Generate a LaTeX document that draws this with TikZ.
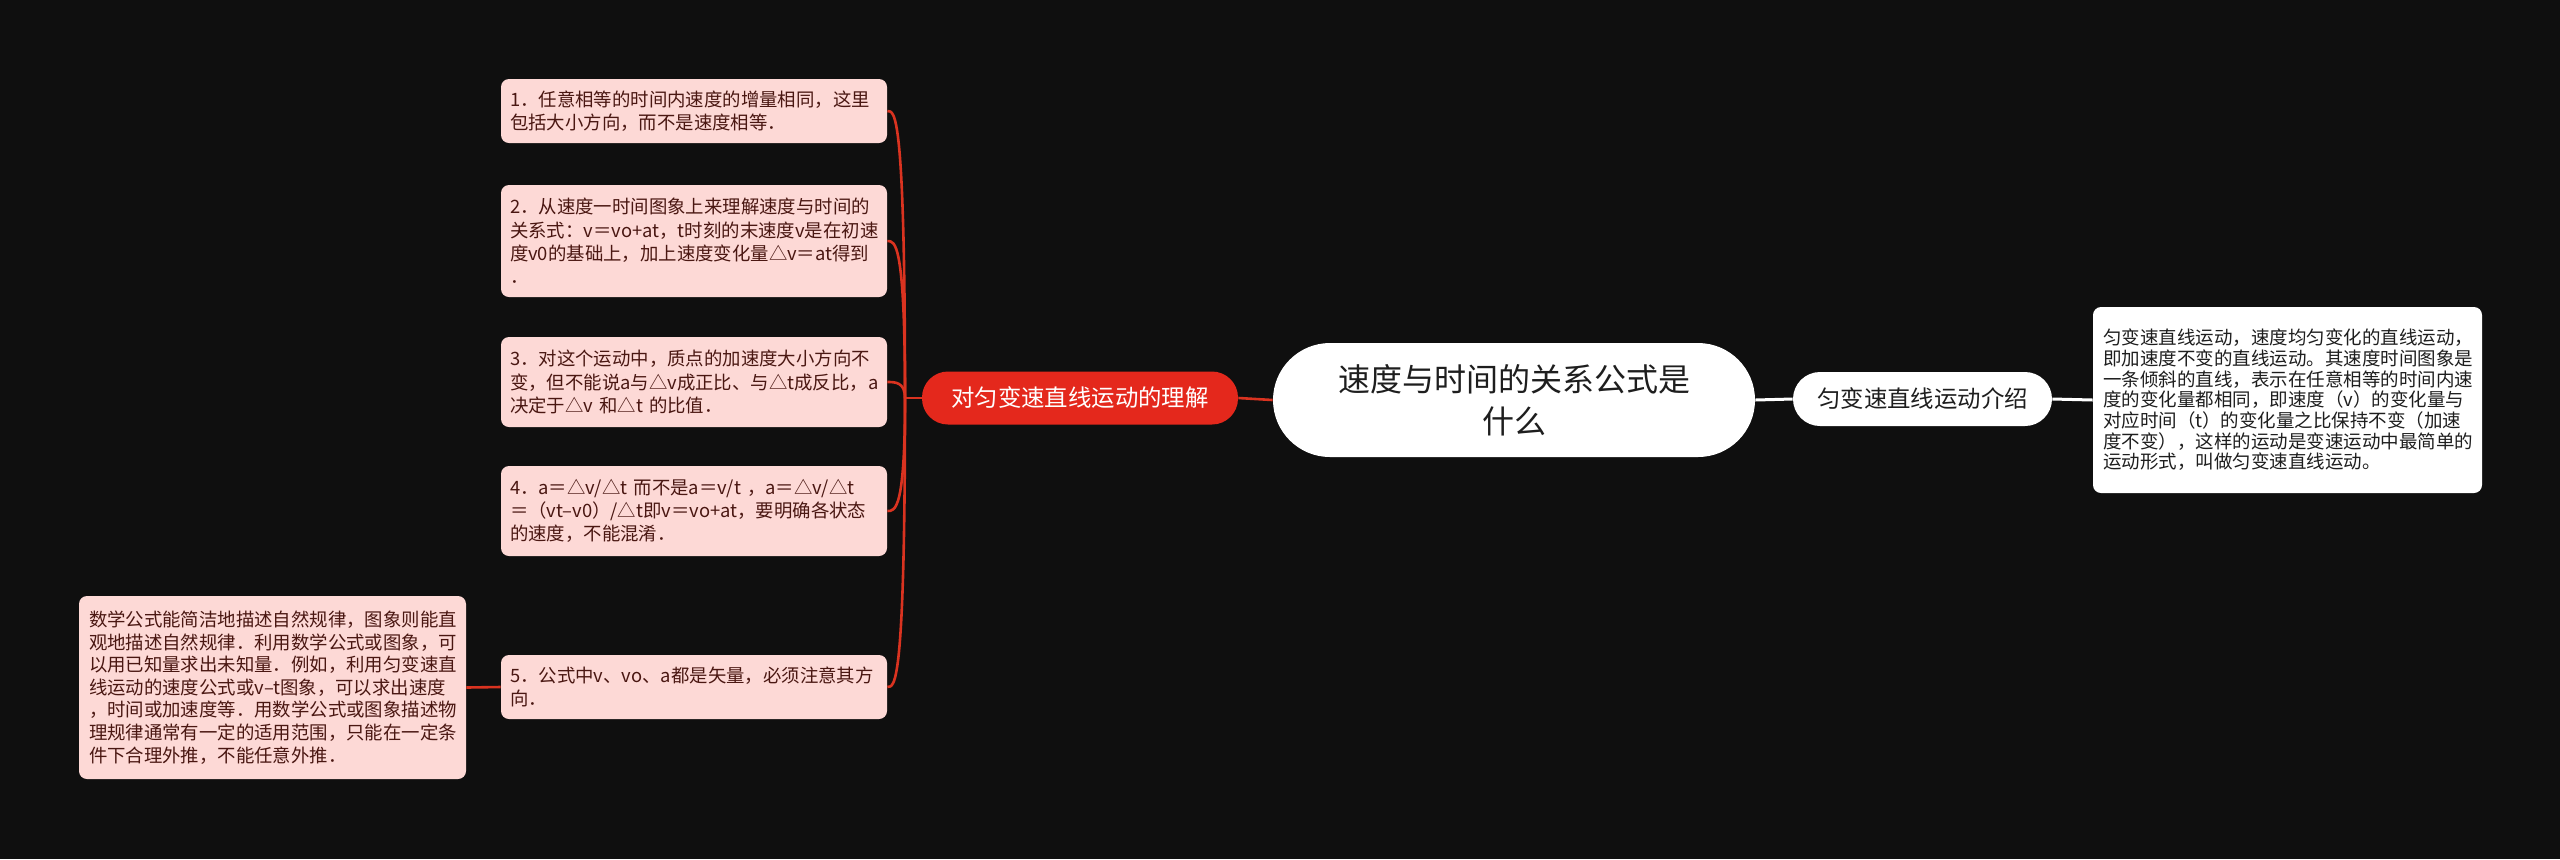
\documentclass[tikz,border=0pt]{standalone}
\usepackage{fontspec}
\setmainfont{Noto Sans CJK SC}
\definecolor{bgc}{HTML}{0F0F0F}
\definecolor{pinkfill}{HTML}{FDD9D6}
\definecolor{maroon}{HTML}{4A1712}
\definecolor{redn}{HTML}{E4281C}
\definecolor{redl}{HTML}{DA3320}
\definecolor{darktext}{HTML}{1E1E1E}
\begin{document}
\begin{tikzpicture}[x=0.5pt,y=-0.5pt,
  leaf/.style={fill=pinkfill, rounded corners=4pt, text=maroon,
    font=\fontsize{9.2pt}{11.65pt}\selectfont, align=left,
    text width=184pt, inner xsep=4.5pt, inner ysep=0pt, minimum width=193pt},
  farleaf/.style={fill=pinkfill, rounded corners=4pt, text=maroon,
    font=\fontsize{9.2pt}{11.3pt}\selectfont, align=left,
    text width=183.5pt, inner xsep=5pt, inner ysep=0pt, minimum width=193.5pt},
  rleaf/.style={fill=white, rounded corners=4pt, text=darktext,
    font=\fontsize{9.25pt}{10.35pt}\selectfont, align=left,
    text width=184.5pt, inner xsep=5pt, inner ysep=0pt, minimum width=194.5pt},
  rootnode/.style={fill=white, rounded corners=28.5pt, text=darktext,
    font=\fontsize{16pt}{21pt}\selectfont, align=center,
    minimum width=241pt, minimum height=57pt, inner sep=0pt},
  rednode/.style={fill=redn, rounded corners=13pt, text=white,
    font=\fontsize{11.7pt}{14pt}\selectfont,
    minimum width=158pt, minimum height=26.5pt, inner sep=0pt},
  whitenode/.style={fill=white, rounded corners=13.5pt, text=darktext,
    font=\fontsize{11.7pt}{14pt}\selectfont,
    minimum width=129.5pt, minimum height=27pt, inner sep=0pt},
  redline/.style={draw=redl, line width=1.3pt},
  whiteline/.style={draw=white, line width=1.5pt}]
\fill[bgc] (0,0) rectangle (2560,859);
\useasboundingbox (0,0) rectangle (2560,859);

\node[rootnode] (root) at (1514,400) {速度与时间的关系公式是\\什么};
\node[rednode] (red) at (1080,398) {对匀变速直线运动的理解};
\node[whitenode] (rn) at (1922.5,399) {匀变速直线运动介绍};

\node[rleaf, minimum height=93pt] (rbox) at (2287.5,400) {匀变速直线运动，速度均匀变化的直线运动，\\即加速度不变的直线运动。其速度时间图象是\\一条倾斜的直线，表示在任意相等的时间内速\\度的变化量都相同，即速度（v）的变化量与\\对应时间（t）的变化量之比保持不变（加速\\度不变），这样的运动是变速运动中最简单的\\运动形式，叫做匀变速直线运动。};

\node[leaf, minimum height=32pt] (b1) at (694,111) {1．任意相等的时间内速度的增量相同，这里\\包括大小方向，而不是速度相等．};
\node[leaf, minimum height=56pt] (b2) at (694,241) {2．从速度一时间图象上来理解速度与时间的\\关系式：v＝vo+at，t时刻的末速度v是在初速\\度v0的基础上，加上速度变化量△v＝at得到\\．};
\node[leaf, minimum height=45pt] (b3) at (694,382) {3．对这个运动中，质点的加速度大小方向不\\变，但不能说a与△v成正比、与△t成反比，a\\决定于△v 和△t 的比值．};
\node[leaf, minimum height=45pt] (b4) at (694,511) {\mbox{4．a＝△v/△t 而不是a＝v/t ，a＝△v/△t}\\\mbox{＝（vt–v0）/△t即v＝vo+at，要明确各状态}\\的速度，不能混淆．};
\node[leaf, minimum height=32pt] (b5) at (694,687) {5．公式中v、vo、a都是矢量，必须注意其方\\向．};

\node[farleaf, minimum height=91.5pt] (far) at (272.5,687.5) {数学公式能简洁地描述自然规律，图象则能直\\观地描述自然规律．利用数学公式或图象，可\\以用已知量求出未知量．例如，利用匀变速直\\线运动的速度公式或v–t图象，可以求出速度\\，时间或加速度等．用数学公式或图象描述物\\理规律通常有一定的适用范围，只能在一定条\\件下合理外推，不能任意外推．};

\coordinate (trunk) at (905,398);
\draw[redline] (root.west) -- (red.east);
\draw[whiteline] (root.east) -- (rn.west);
\draw[whiteline] (rn.east) -- (rbox.west);
\draw[redline] (red.west) -- (trunk);
\draw[redline] (trunk) .. controls (905,111) and (895,111) .. (b1.east);
\draw[redline] (trunk) .. controls (905,241) and (895,241) .. (b2.east);
\draw[redline] (trunk) .. controls (905,382) and (895,382) .. (b3.east);
\draw[redline] (trunk) .. controls (905,511) and (895,511) .. (b4.east);
\draw[redline] (trunk) .. controls (905,687) and (895,687) .. (b5.east);
\draw[redline] (b5.west) -- (far.east);
\end{tikzpicture}
\end{document}
